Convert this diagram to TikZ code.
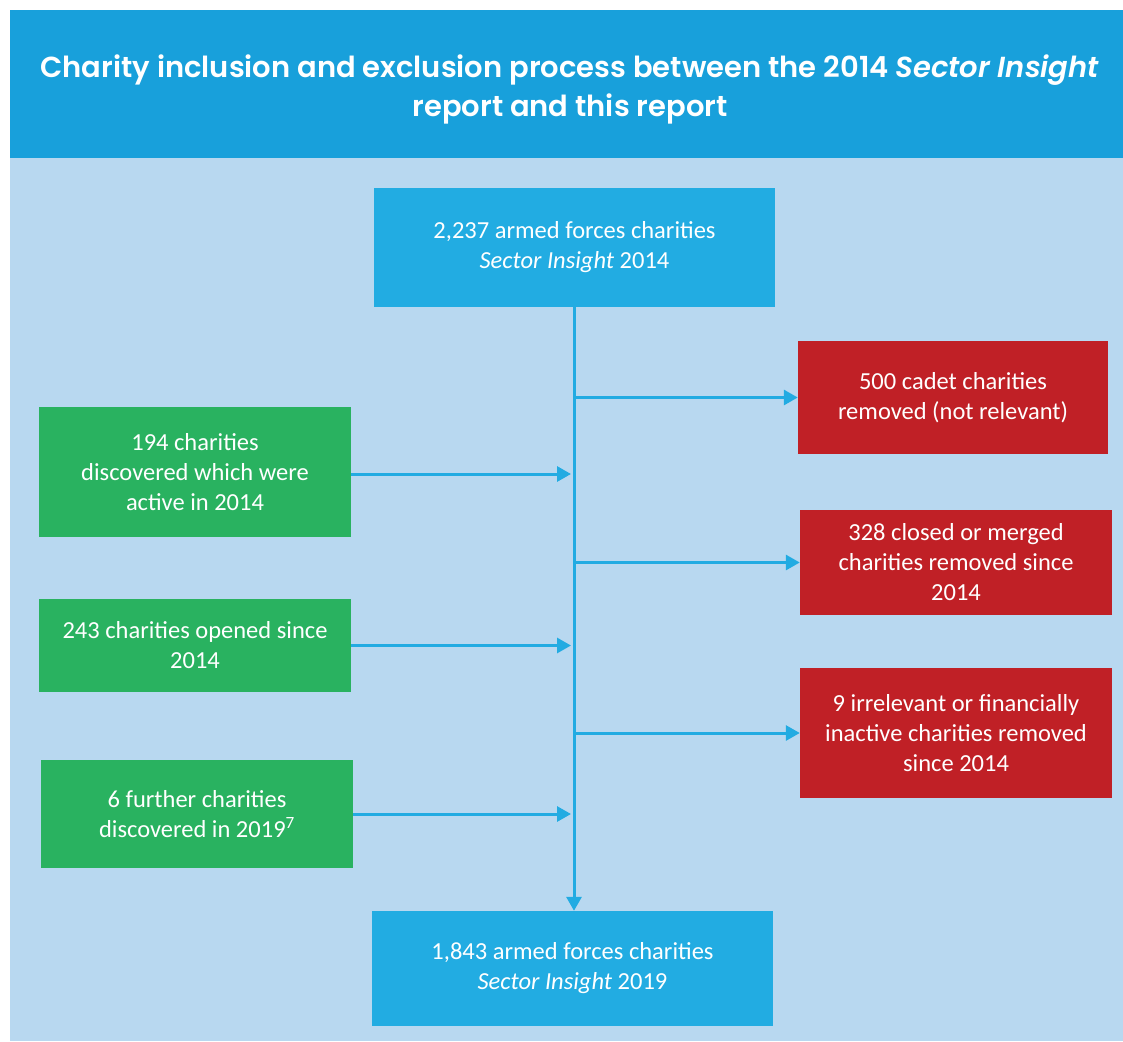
\documentclass[tikz,border=0pt]{standalone}
\usepackage{fontspec}
\setmainfont{Carlito}
\newfontfamily\titlefont{Poppins}[UprightFont=* SemiBold, ItalicFont=* SemiBold Italic]
\usetikzlibrary{arrows.meta}
\definecolor{bandblue}{HTML}{18A0DB}
\definecolor{bgblue}{HTML}{B8D8F0}
\definecolor{boxblue}{HTML}{22ACE2}
\definecolor{boxgreen}{HTML}{29B260}
\definecolor{boxred}{HTML}{C02026}
\definecolor{arrblue}{HTML}{22ABE2}
\begin{document}
\begin{tikzpicture}[x=1pt,y=-1pt,
  box/.style={rectangle, inner sep=0pt, text=white, align=center,
    font=\fontsize{24.5}{30}\selectfont},
  arr/.style={draw=arrblue, line width=3pt, -{Triangle[length=14pt,width=15pt]}},
  ln/.style={draw=arrblue, line width=3pt}]
\useasboundingbox (0,0) rectangle (1123,1041);
\fill[white] (0,0) rectangle (1123,1041);
\fill[bgblue] (10,158) rectangle (1123,1041);
\fill[bandblue] (10,10) rectangle (1123,158);
\node[text=white, align=center, font=\titlefont\fontsize{29}{39}\selectfont] (title) at (570,89)
  {Charity inclusion and exclusion process between the 2014 \textit{Sector Insight}\\report and this report};
% boxes
\node[box, fill=boxblue, minimum width=401pt, minimum height=119pt] (top) at (574.5,247.5)
  {2,237 armed forces charities\\\textit{Sector Insight} 2014};
\node[box, fill=boxblue, minimum width=401pt, minimum height=115pt] (bot) at (572.5,968.5)
  {1,843 armed forces charities\\\textit{Sector Insight} 2019};
\node[box, fill=boxgreen, minimum width=312pt, minimum height=130pt] (g1) at (195,472)
  {194 charities\\discovered which were\\active in 2014};
\node[box, fill=boxgreen, minimum width=312pt, minimum height=93pt] (g2) at (195,645.5)
  {243 charities opened since\\2014};
\node[box, fill=boxgreen, minimum width=312pt, minimum height=108pt] (g3) at (197,814)
  {6 further charities\\discovered in 2019\textsuperscript{7}};
\node[box, fill=boxred, minimum width=310pt, minimum height=113pt] (r1) at (953,397.5)
  {500 cadet charities\\removed (not relevant)};
\node[box, fill=boxred, minimum width=312pt, minimum height=105pt] (r2) at (956,562.5)
  {328 closed or merged\\charities removed since\\2014};
\node[box, fill=boxred, minimum width=312pt, minimum height=130pt] (r3) at (956,733)
  {9 irrelevant or financially\\inactive charities removed\\since 2014};
% connectors
\coordinate (spine) at (571,0);
\draw[arr] (top.south -| 574,0) -- (bot.north -| 574,0);
\coordinate (j1) at (574,397.5);
\coordinate (j2) at (574,562.5);
\coordinate (j3) at (574,733);
\draw[arr] (j1) -- (r1.west);
\draw[arr] (j2) -- (r2.west);
\draw[arr] (j3) -- (r3.west);
\draw[arr] (g1.east) ++(0,2) -- (spine |- 0,474);
\draw[arr] (g2.east) -- (spine |- g2.east);
\draw[arr] (g3.east) -- (spine |- g3.east);
\end{tikzpicture}
\end{document}
